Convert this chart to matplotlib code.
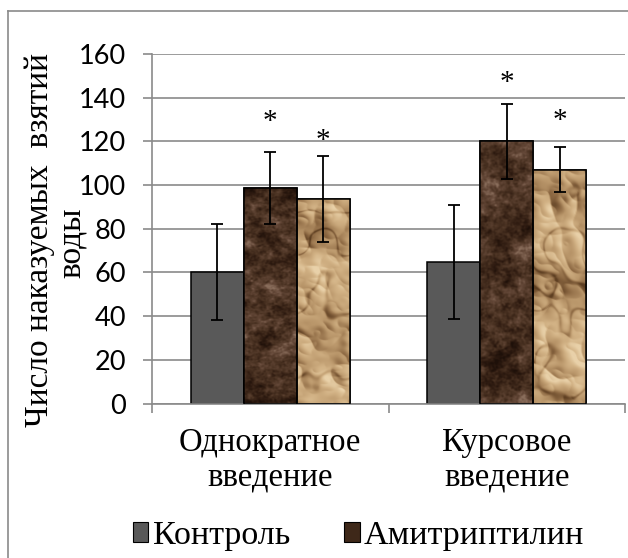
import numpy as np
import matplotlib.pyplot as plt
from matplotlib.colors import LinearSegmentedColormap
from matplotlib.patches import Patch
from matplotlib.lines import Line2D

# ---------------- data ----------------
groups = ["Однократное\nвведение", "Курсовое\nвведение"]
legend_labels = ["Контроль", "Амитриптилин"]
ylabel_lines = ["Число наказуемых  взятий", "воды"]

control = [60.3, 64.9]
control_err = [22.1, 26.1]
amitr = [98.8, 120.0]
amitr_err = [16.5, 17.3]
third = [93.6, 107.1]
third_err = [19.5, 10.3]

# heights of the significance marks
amitr_star = [131.3, 149.4]
third_star = [122.9, 132.0]

yticks = [0, 20, 40, 60, 80, 100, 120, 140, 160]

SERIF = "Liberation Serif"
SANS = "Lato"


# ---------------- textures ----------------
rng = np.random.default_rng(7)

def smooth_field(shape, sy, sx=None):
    sx = sy if sx is None else sx
    n = rng.standard_normal(shape)
    ky = np.fft.fftfreq(shape[0])[:, None]
    kx = np.fft.fftfreq(shape[1])[None, :]
    g = np.exp(-2 * np.pi ** 2 * ((sx * kx) ** 2 + (sy * ky) ** 2))
    f = np.real(np.fft.ifft2(np.fft.fft2(n) * g))
    return (f - f.mean()) / f.std()

fur_cmap = LinearSegmentedColormap.from_list(
    "fur", ["#1e1009", "#311d12", "#4a3222", "#634737", "#8a6e5c"])
paper_cmap = LinearSegmentedColormap.from_list(
    "paper", ["#5e3f22", "#8e6a44", "#b9966a", "#d2b285", "#e9d1a9"])

def fur_texture(h=340, w=60):
    f = 0.55 * smooth_field((h, w), 10) + 0.4 * smooth_field((h, w), 3) \
        + 0.3 * smooth_field((h, w), 1.0)
    return fur_cmap(np.clip((f + 2.0) / 4.1, 0, 1))

def paper_texture(h=340, w=60):
    ridge = -np.abs(smooth_field((h, w), 14, 9)) - 0.3 * np.abs(smooth_field((h, w), 5))
    height = ridge + 0.7 * smooth_field((h, w), 22)
    gy, gx = np.gradient(height)
    shade = (gx - gy) * 6.0
    crease = np.exp(-(smooth_field((h, w), 14, 9) / 0.2) ** 2)
    v = 0.6 + 0.2 * shade - 0.3 * crease + 0.1 * smooth_field((h, w), 25)
    return paper_cmap(np.clip(v, 0, 1))


# ---------------- figure ----------------
fig = plt.figure(figsize=(6.28, 5.58), dpi=100)
ax = fig.add_axes([152 / 628, 1 - 403.5 / 558, (625 - 152) / 628, (403.5 - 54) / 558])

x = np.array([0.5, 1.5])
w = 0.224
grid_c = "#8a8a8a"

ax.set_axisbelow(True)
ax.yaxis.grid(True, color=grid_c, linewidth=1.2)

ekw = dict(ecolor="black", elinewidth=1.3, capsize=4.3, capthick=1.3)

ax.bar(x - w, control, w, color="#595959", edgecolor="black", linewidth=1.1, zorder=2)
b2 = ax.bar(x, amitr, w, color="#3e2819", edgecolor="black", linewidth=1.1, zorder=2)
b3 = ax.bar(x + w, third, w, color="#c8a57a", edgecolor="black", linewidth=1.1, zorder=2)

# textured fill clipped to each bar
for bars, make in [(b2, fur_texture), (b3, paper_texture)]:
    for p in bars:
        x0, y0 = p.get_x(), p.get_y()
        img = ax.imshow(make(), extent=[x0, x0 + p.get_width(), y0, y0 + p.get_height()],
                        aspect="auto", interpolation="bilinear", zorder=2.5)
        img.set_clip_path(p)
ax.bar(x, amitr, w, facecolor="none", edgecolor="black", linewidth=1.1, zorder=3)
ax.bar(x + w, third, w, facecolor="none", edgecolor="black", linewidth=1.1, zorder=3)

ax.errorbar(x - w, control, yerr=control_err, fmt="none", zorder=4, **ekw)
ax.errorbar(x, amitr, yerr=amitr_err, fmt="none", zorder=4, **ekw)
ax.errorbar(x + w, third, yerr=third_err, fmt="none", zorder=4, **ekw)

for xs, ys in [(x, amitr_star), (x + w, third_star)]:
    for xi, yi in zip(xs, ys):
        ax.annotate("*", (xi, yi), xytext=(0, -4), textcoords="offset points",
                    ha="center", va="center", fontsize=21, family=SERIF, zorder=5)

ax.set_xlim(0, 2)
ax.set_ylim(0, 160)
ax.set_yticks(yticks)
ax.set_yticklabels([str(t) for t in yticks], fontsize=19.5, family=SANS)
ax.tick_params(axis="y", length=6.5, width=1.2, color=grid_c, pad=12)

ax.set_xticks([0, 1, 2])
ax.set_xticklabels([])
ax.set_xticks(x, minor=True)
ax.set_xticklabels(groups, minor=True, fontsize=23.5, family=SERIF, linespacing=1.2)
ax.tick_params(axis="x", which="major", length=6.5, width=1.2, color=grid_c)
ax.tick_params(axis="x", which="minor", length=0, pad=17)

for s in ["top", "right"]:
    ax.spines[s].set_visible(False)
for s in ["left", "bottom"]:
    ax.spines[s].set_color(grid_c)
    ax.spines[s].set_linewidth(1.2)

# two-line axis title, each line placed on its own baseline
fig.text(48 / 628, 1 - 240 / 558, ylabel_lines[0], rotation=90, rotation_mode="anchor",
         ha="center", va="baseline", fontsize=24, family=SERIF)
fig.text(80 / 628, 1 - 243 / 558, ylabel_lines[1], rotation=90, rotation_mode="anchor",
         ha="center", va="baseline", fontsize=24, family=SERIF)

handles = [Patch(facecolor="#595959", edgecolor="black", linewidth=0.8),
           Patch(facecolor="#3e2819", edgecolor="black", linewidth=0.8)]
fig.legend(handles, legend_labels, loc="center", bbox_to_anchor=(0.571, 0.04),
           ncol=2, frameon=False, prop={"family": SERIF, "size": 24.5},
           handlelength=0.45, handleheight=0.5, handletextpad=0.12,
           columnspacing=1.6, borderpad=0, borderaxespad=0)

# chart border
fig.add_artist(Line2D([8 / 628, 8 / 628], [0, 1 - 11 / 558], color=grid_c, linewidth=1.2))
fig.add_artist(Line2D([8 / 628, 1], [1 - 11 / 558, 1 - 11 / 558], color=grid_c, linewidth=1.2))

fig.savefig("out.png", dpi=100)
